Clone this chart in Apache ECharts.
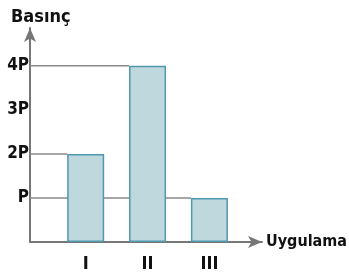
<!DOCTYPE html>
<html>
<head>
<meta charset="utf-8">
<script src="https://cdn.jsdelivr.net/npm/echarts@6/dist/echarts.min.js"></script>
<style>
  html, body { margin: 0; padding: 0; background: #fff; }
  #chart { width: 349px; height: 272px; }
</style>
</head>
<body>
<div id="chart"></div>
<script>
// data
const categories = ['I', 'II', 'III']
const positions = [1, 2, 3]
const pressures = [2, 4, 1]          // in units of P
const yTicks = [1, 2, 3, 4]
const yTickLabels = ['P', '2P', '3P', '4P']

const font = "'Liberation Sans Narrow', 'DejaVu Sans Condensed', Arial, sans-serif"
const barW = 37
const axisColor = '#777'

const barData = positions.map((x, i) => [x, pressures[i]])

const chart = echarts.init(document.getElementById('chart'))

chart.setOption({
  animation: false,
  grid: { left: 30, right: 87, top: 28, bottom: 30, outerBoundsMode: 'none' },
  xAxis: {
    type: 'value',
    min: 0.1,
    max: 3.85,
    name: 'Uygulama',
    nameLocation: 'end',
    nameGap: 4,
    nameTextStyle: { fontFamily: font, fontWeight: 'bold', fontSize: 16, color: '#111' },
    axisLine: { lineStyle: { color: axisColor, width: 2 }, symbol: ['none', 'arrow'], symbolSize: [9, 14] },
    axisTick: { show: false },
    splitLine: { show: false },
    axisLabel: {
      customValues: positions,
      formatter: v => categories[positions.indexOf(v)] || '',
      fontFamily: font, fontWeight: 'bold', fontSize: 18, color: '#111', margin: 13
    }
  },
  yAxis: {
    type: 'value',
    min: 0,
    max: 4.86,
    name: 'Basınç',
    nameLocation: 'end',
    nameGap: 2,
    nameTextStyle: { fontFamily: font, fontWeight: 'bold', fontSize: 18, color: '#111', align: 'left', padding: [0, 0, 0, -19] },
    axisLine: { lineStyle: { color: axisColor, width: 2 }, symbol: ['none', 'arrow'], symbolSize: [9, 14] },
    axisTick: { show: false },
    splitLine: { show: false },
    axisLabel: {
      customValues: yTicks,
      formatter: v => yTickLabels[yTicks.indexOf(v)] || '',
      fontFamily: font, fontWeight: 'bold', fontSize: 17, color: '#111', margin: 1
    }
  },
  series: [
    {
      // guide lines from the y axis to the left edge of each bar
      type: 'custom',
      z: 1,
      data: barData,
      renderItem: (params, api) => {
        const end = api.coord([api.value(0), api.value(1)])
        return {
          type: 'line',
          shape: { x1: params.coordSys.x, y1: end[1], x2: end[0] - barW / 2, y2: end[1] },
          style: { stroke: '#8a8a8a', lineWidth: 1.5 }
        }
      }
    },
    {
      type: 'bar',
      z: 2,
      barWidth: barW,
      data: barData,
      itemStyle: { color: '#bfd8dd', borderColor: '#4f98ad', borderWidth: 1.5 }
    }
  ]
})
</script>
</body>
</html>
